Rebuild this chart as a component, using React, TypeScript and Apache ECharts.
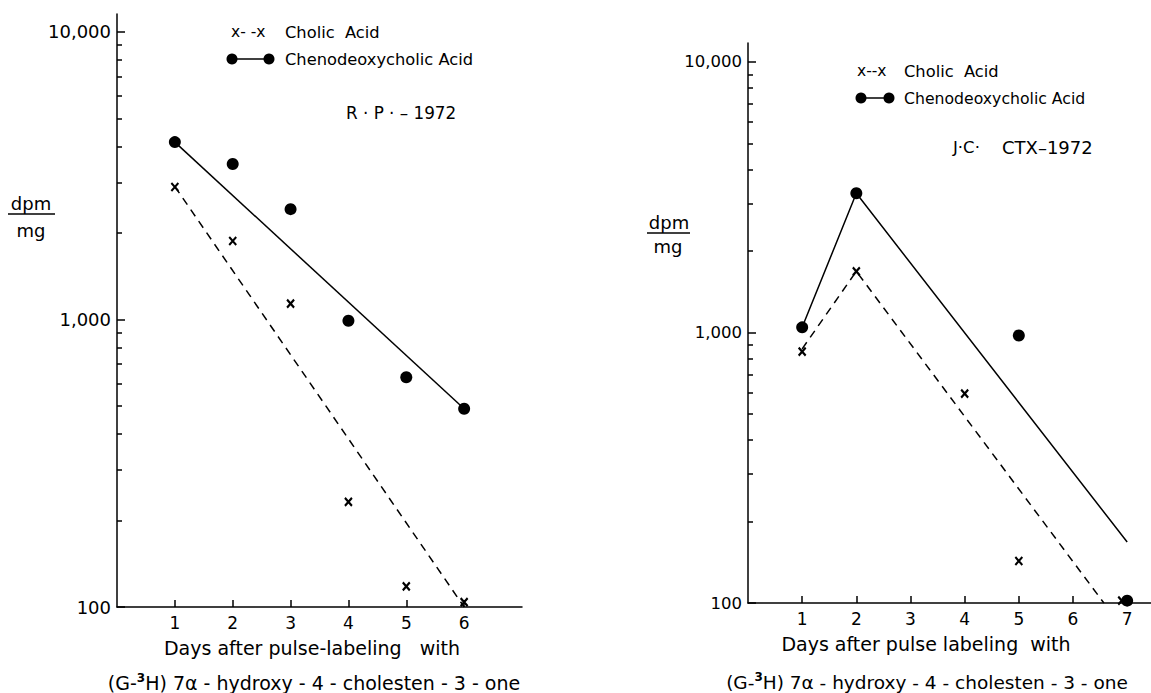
import React, { useEffect, useRef } from "react";
import * as echarts from "echarts";

// ---------- data ----------
const leftDays = [1, 2, 3, 4, 5, 6];
const leftCholic = [2890, 1875, 1135, 232, 118, 104];
const leftCheno = [4140, 3475, 2420, 990, 630, 489];
const leftCholicFitDays = [1, 6];
const leftCholicFit = [2900, 100];
const leftChenoFitDays = [1, 6];
const leftChenoFit = [4140, 489];

const rightCholicDays = [1, 2, 4, 5, 6.9];
const rightCholic = [850, 1683, 594, 143, 102];
const rightChenoDays = [1, 2, 5, 7];
const rightCheno = [1045, 3270, 975, 102];
const rightCholicFitDays = [1, 2, 6.57];
const rightCholicFit = [870, 1683, 100];
const rightChenoFitDays = [1, 2, 7];
const rightChenoFit = [1045, 3270, 168];

const yMajorTicks = [100, 1000, 10000];
const yMajorLabels = ["100", "1,000", "10,000"];
const yMinorTicks = [200, 300, 400, 500, 600, 700, 800, 900, 2000, 3000, 4000, 5000, 6000, 7000, 8000, 9000];
const leftXTicks = [1, 2, 3, 4, 5, 6];
const rightXTicks = [1, 2, 3, 4, 5, 6, 7];

const FONT = "DejaVu Sans";
const INK = "#000";

const pairs = (xs: number[], ys: number[]) => xs.map((x, i) => [x, ys[i]]);
const X_SYMBOL = "path://M0,0L10,11M10,0L0,11";

function yAxes(grid: number, max: number, labelSize: number) {
  const common = {
    gridIndex: grid,
    type: "log" as const,
    logBase: 10,
    position: "left" as const,
    min: 100,
    max,
    splitLine: { show: false },
  };
  return [
    {
      ...common,
      axisLine: { show: true, onZero: false, lineStyle: { color: INK, width: 1.5 } },
      axisTick: { show: true, inside: true, length: 8, customValues: yMajorTicks, lineStyle: { color: INK, width: 1.5 } },
      axisLabel: {
        show: true,
        customValues: yMajorTicks,
        margin: 6,
        fontFamily: FONT,
        fontSize: labelSize,
        color: INK,
        formatter: (v: number) => {
          const i = yMajorTicks.findIndex((t) => Math.abs(t - v) / t < 1e-6);
          return i >= 0 ? yMajorLabels[i] : "";
        },
      },
    },
    {
      ...common,
      axisLine: { show: false, onZero: false },
      axisTick: { show: true, inside: true, length: 5, customValues: yMinorTicks, lineStyle: { color: INK, width: 1.5 } },
      axisLabel: { show: false },
    },
  ];
}

function xAxis(grid: number, max: number, ticks: number[]) {
  return {
    gridIndex: grid,
    type: "value" as const,
    min: 0,
    max,
    splitLine: { show: false },
    axisLine: { show: true, onZero: false, lineStyle: { color: INK, width: 1.5 } },
    axisTick: { show: true, inside: true, length: 7, customValues: ticks, lineStyle: { color: INK, width: 1.5 } },
    axisLabel: { show: true, customValues: ticks, margin: 7, fontFamily: FONT, fontSize: 17, color: INK },
  };
}

function txt(x: number, y: number, text: string, size: number, align = "left", extra: any = {}) {
  return {
    type: "text",
    x,
    y,
    silent: true,
    style: { text, fill: INK, fontFamily: FONT, fontSize: size, align, verticalAlign: "middle", ...extra },
  };
}

function dotLegend(x1: number, x2: number, y: number) {
  return [
    { type: "line", shape: { x1, y1: y, x2, y2: y }, style: { stroke: INK, lineWidth: 1.5 } },
    { type: "circle", shape: { cx: x1, cy: y, r: 5.5 }, style: { fill: INK } },
    { type: "circle", shape: { cx: x2, cy: y, r: 5.5 }, style: { fill: INK } },
  ];
}

const sup = { s: { fontSize: 12, fontWeight: "bold", fontFamily: FONT, fill: INK, padding: [0, 0, 10, 0], verticalAlign: "bottom" } };

export default function App() {
  const ref = useRef<HTMLDivElement>(null);
  useEffect(() => {
    if (!ref.current) return;
    const chart = echarts.init(ref.current, undefined, { renderer: "svg" });
    const lineSeries = (xi: number, yi: number, data: number[][], dashed: boolean) => ({
      type: "line",
      xAxisIndex: xi,
      yAxisIndex: yi,
      data,
      showSymbol: false,
      symbol: "none",
      silent: true,
      lineStyle: { color: INK, width: 1.5, type: dashed ? [8, 6] : "solid" },
    });
    const dotSeries = (xi: number, yi: number, data: number[][]) => ({
      type: "scatter",
      xAxisIndex: xi,
      yAxisIndex: yi,
      data,
      symbol: "circle",
      symbolSize: 12,
      silent: true,
      itemStyle: { color: INK, opacity: 1 },
    });
    const xSeries = (xi: number, yi: number, data: number[][]) => ({
      type: "scatter",
      xAxisIndex: xi,
      yAxisIndex: yi,
      data,
      symbol: X_SYMBOL,
      symbolSize: [7, 8],
      silent: true,
      itemStyle: { color: "none", borderColor: INK, borderWidth: 2.2, opacity: 1 },
    });
    chart.setOption({
      animation: false,
      backgroundColor: "#fff",
      grid: [
        { left: 117, top: 14, width: 405, height: 593 },
        { left: 748, top: 43, width: 403, height: 560 },
      ],
      xAxis: [xAxis(0, 7, leftXTicks), xAxis(1, 7.44, rightXTicks)],
      yAxis: [...yAxes(0, 11550, 18), ...yAxes(1, 11754, 16.5)],
      series: [
        lineSeries(0, 0, pairs(leftChenoFitDays, leftChenoFit), false),
        lineSeries(0, 0, pairs(leftCholicFitDays, leftCholicFit), true),
        dotSeries(0, 0, pairs(leftDays, leftCheno)),
        xSeries(0, 0, pairs(leftDays, leftCholic)),
        lineSeries(1, 2, pairs(rightChenoFitDays, rightChenoFit), false),
        lineSeries(1, 2, pairs(rightCholicFitDays, rightCholicFit), true),
        dotSeries(1, 2, pairs(rightChenoDays, rightCheno)),
        xSeries(1, 2, pairs(rightCholicDays, rightCholic)),
      ],
      graphic: [
        // left legend
        txt(231, 32, "x- -x", 15.5),
        txt(285, 32, "Cholic  Acid", 16.3),
        ...dotLegend(232, 269, 59),
        txt(285, 59, "Chenodeoxycholic Acid", 16.3),
        txt(346, 113, "R · P · – 1972", 16.8),
        // left y title
        txt(31, 203, "dpm", 18, "center"),
        { type: "line", shape: { x1: 8, y1: 214, x2: 55, y2: 214 }, style: { stroke: INK, lineWidth: 1.5 } },
        txt(31, 230, "mg", 18, "center"),
        // left x title
        txt(312, 648, "Days after pulse-labeling   with", 19, "center"),
        txt(314, 683, "(G-{s|3}H) 7α - hydroxy - 4 - cholesten - 3 - one", 19, "center", { rich: sup }),
        // right legend
        txt(857, 71, "x--x", 15.5),
        txt(904, 71, "Cholic  Acid", 16.3),
        ...dotLegend(861, 889, 98),
        txt(904, 98, "Chenodeoxycholic Acid", 15.7),
        txt(953, 147, "J·C·", 16.5),
        txt(1002, 147, "CTX–1972", 18),
        // right y title
        txt(669, 222, "dpm", 18, "center"),
        { type: "line", shape: { x1: 647, y1: 233, x2: 690, y2: 233 }, style: { stroke: INK, lineWidth: 1.5 } },
        txt(668, 246, "mg", 18, "center"),
        // right x title
        txt(926, 644, "Days after pulse labeling  with", 19, "center"),
        txt(927, 682, "(G-{s|3}H) 7α - hydroxy - 4 - cholesten - 3 - one", 18.5, "center", { rich: sup }),
      ],
    });
    return () => chart.dispose();
  }, []);
  return <div ref={ref} style={{ position: "fixed", left: 0, top: 0, width: 1151, height: 693, background: "#fff" }} />;
}
